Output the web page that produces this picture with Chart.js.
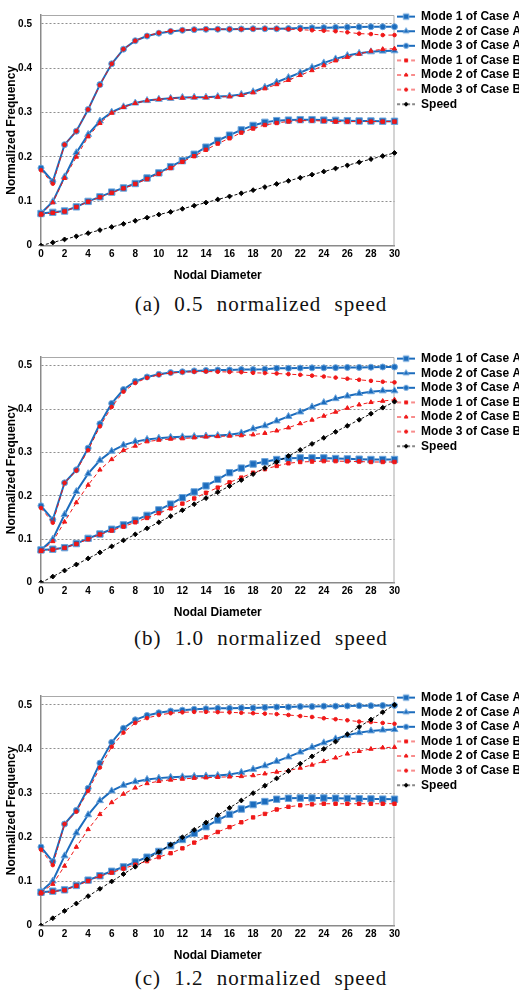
<!DOCTYPE html>
<html>
<head>
<meta charset="utf-8">
<script src="https://cdn.jsdelivr.net/npm/chart.js@4.4.1/dist/chart.umd.min.js"></script>
<style>
    html, body { margin: 0; padding: 0; background: #fff; }
    body { width: 519px; height: 995px; position: relative; overflow: hidden; }
    .panel { position: absolute; left: 0; }
    .caption {
        position: absolute; left: 0; width: 522px; text-align: center;
        font-family: "Liberation Serif", "Times New Roman", serif;
        font-size: 21px; line-height: 24px; letter-spacing: 1px; word-spacing: 7px; color: #111;
    }
</style>
</head>
<body>
<canvas id="chartA" class="panel" width="526" height="283" style="top:0px"></canvas>
<div class="caption" style="top:292px">(a) 0.5 normalized speed</div>
<canvas id="chartB" class="panel" width="526" height="278" style="top:342px"></canvas>
<div class="caption" style="top:626px">(b) 1.0 normalized speed</div>
<canvas id="chartC" class="panel" width="526" height="282" style="top:681px"></canvas>
<div class="caption" style="top:966px">(c) 1.2 normalized speed</div>

<script>
// Nodal diameters (x axis)
const NODAL_DIAMETERS = [0, 1, 2, 3, 4, 5, 6, 7, 8, 9, 10, 11, 12, 13, 14, 15,
    16, 17, 18, 19, 20, 21, 22, 23, 24, 25, 26, 27, 28, 29, 30];
const Y_TICKS = [0, 0.1, 0.2, 0.3, 0.4, 0.5];

// (a) 0.5 normalized speed
const a_mode1A = [0.0723, 0.075, 0.078, 0.0874, 0.0997, 0.110, 0.1207, 0.130, 0.140, 0.1525, 0.164, 0.178, 0.1915, 0.206, 0.222, 0.237, 0.249, 0.261, 0.271, 0.278, 0.2818, 0.283, 0.284, 0.284, 0.283, 0.2825, 0.2818, 0.281, 0.281, 0.2805, 0.2803];
const a_mode2A = [0.073, 0.099, 0.155, 0.2095, 0.2507, 0.281, 0.301, 0.313, 0.3215, 0.327, 0.330, 0.332, 0.334, 0.3345, 0.3345, 0.336, 0.3374, 0.341, 0.347, 0.357, 0.3685, 0.379, 0.390, 0.4017, 0.412, 0.421, 0.4285, 0.4335, 0.437, 0.4386, 0.4393];
const a_mode3A = [0.175, 0.1445, 0.2276, 0.258, 0.307, 0.363, 0.41, 0.443, 0.462, 0.4725, 0.479, 0.483, 0.4855, 0.487, 0.4877, 0.488, 0.488, 0.4885, 0.489, 0.489, 0.489, 0.4895, 0.4905, 0.491, 0.4915, 0.492, 0.4925, 0.493, 0.4935, 0.4935, 0.4935];
const a_mode1B = [0.070, 0.074, 0.077, 0.087, 0.099, 0.109, 0.119, 0.129, 0.139, 0.150, 0.162, 0.175, 0.189, 0.2016, 0.216, 0.23, 0.242, 0.2547, 0.264, 0.272, 0.2765, 0.280, 0.2818, 0.2818, 0.281, 0.2796, 0.2796, 0.2796, 0.2796, 0.2796, 0.2796];
const a_mode2B = [0.071, 0.097, 0.152, 0.200, 0.2457, 0.276, 0.299, 0.312, 0.321, 0.327, 0.330, 0.332, 0.333, 0.334, 0.334, 0.335, 0.336, 0.339, 0.345, 0.354, 0.3634, 0.373, 0.384, 0.395, 0.406, 0.417, 0.425, 0.432, 0.439, 0.443, 0.444];
const a_mode3B = [0.170, 0.1395, 0.2276, 0.258, 0.307, 0.362, 0.41, 0.443, 0.462, 0.473, 0.480, 0.484, 0.486, 0.487, 0.488, 0.488, 0.488, 0.488, 0.4885, 0.489, 0.489, 0.488, 0.487, 0.4855, 0.4845, 0.4834, 0.481, 0.478, 0.477, 0.4747, 0.4747];
const a_speed = [0, 0.007, 0.014, 0.021, 0.028, 0.035, 0.042, 0.049, 0.056, 0.063, 0.070, 0.076, 0.083, 0.090, 0.097, 0.104, 0.111, 0.118, 0.125, 0.132, 0.139, 0.146, 0.153, 0.160, 0.167, 0.174, 0.181, 0.188, 0.195, 0.202, 0.209];

// (b) 1.0 normalized speed
const b_mode1A = [0.0753, 0.077, 0.0805, 0.090, 0.102, 0.112, 0.123, 0.133, 0.144, 0.155, 0.1677, 0.181, 0.1957, 0.209, 0.223, 0.238, 0.2533, 0.264, 0.2733, 0.2785, 0.2837, 0.2867, 0.2874, 0.2874, 0.2874, 0.286, 0.2852, 0.2845, 0.2837, 0.2837, 0.2837];
const b_mode2A = [0.075, 0.1, 0.157, 0.21, 0.251, 0.282, 0.303, 0.317, 0.325, 0.330, 0.333, 0.335, 0.336, 0.337, 0.338, 0.339, 0.341, 0.345, 0.3545, 0.3615, 0.3726, 0.383, 0.3933, 0.405, 0.415, 0.424, 0.430, 0.436, 0.440, 0.442, 0.442];
const b_mode3A = [0.177, 0.145, 0.23, 0.26, 0.31, 0.366, 0.413, 0.445, 0.464, 0.474, 0.480, 0.484, 0.486, 0.488, 0.489, 0.490, 0.490, 0.491, 0.491, 0.492, 0.494, 0.494, 0.4945, 0.495, 0.495, 0.4955, 0.496, 0.496, 0.4965, 0.497, 0.497];
const b_mode1B = [0.073, 0.076, 0.080, 0.089, 0.1, 0.111, 0.12, 0.129, 0.139, 0.149, 0.16, 0.171, 0.182, 0.194, 0.207, 0.219, 0.231, 0.242, 0.2533, 0.2615, 0.2689, 0.275, 0.278, 0.279, 0.28, 0.28, 0.2795, 0.279, 0.278, 0.278, 0.278];
const b_mode2B = [0.073, 0.095, 0.14, 0.1846, 0.225, 0.26, 0.284, 0.305, 0.315, 0.325, 0.3286, 0.331, 0.332, 0.334, 0.336, 0.337, 0.338, 0.339, 0.341, 0.3444, 0.350, 0.357, 0.3667, 0.375, 0.384, 0.3933, 0.4022, 0.41, 0.4156, 0.4185, 0.4215];
const b_mode3B = [0.172, 0.138, 0.23, 0.258, 0.305, 0.36, 0.405, 0.44, 0.46, 0.472, 0.479, 0.483, 0.485, 0.486, 0.4865, 0.486, 0.4855, 0.485, 0.4835, 0.483, 0.482, 0.4805, 0.479, 0.477, 0.475, 0.4725, 0.470, 0.4675, 0.465, 0.463, 0.4615];
const b_speed = [0, 0.0139, 0.0278, 0.0417, 0.0556, 0.0695, 0.0834, 0.0973, 0.1112, 0.1251, 0.139, 0.1529, 0.1668, 0.1807, 0.1946, 0.2085, 0.2224, 0.2363, 0.2502, 0.2641, 0.278, 0.2919, 0.3058, 0.3197, 0.3336, 0.3475, 0.3614, 0.3753, 0.3892, 0.4031, 0.417];

// (c) 1.2 normalized speed
const c_mode1A = [0.0755, 0.078, 0.081, 0.091, 0.103, 0.113, 0.123, 0.133, 0.144, 0.155, 0.168, 0.181, 0.195, 0.209, 0.224, 0.239, 0.252, 0.264, 0.274, 0.281, 0.2862, 0.2884, 0.289, 0.289, 0.289, 0.2885, 0.288, 0.2875, 0.287, 0.2865, 0.2862];
const c_mode2A = [0.077, 0.101, 0.158, 0.21, 0.251, 0.283, 0.305, 0.318, 0.326, 0.331, 0.334, 0.336, 0.337, 0.338, 0.339, 0.340, 0.342, 0.347, 0.354, 0.362, 0.372, 0.382, 0.393, 0.404, 0.414, 0.423, 0.431, 0.437, 0.441, 0.443, 0.444];
const c_mode3A = [0.178, 0.145, 0.23, 0.261, 0.311, 0.368, 0.415, 0.447, 0.466, 0.476, 0.482, 0.486, 0.488, 0.490, 0.491, 0.492, 0.492, 0.493, 0.493, 0.494, 0.495, 0.495, 0.496, 0.496, 0.497, 0.497, 0.4975, 0.498, 0.498, 0.4985, 0.4986];
const c_mode1B = [0.073, 0.077, 0.08, 0.09, 0.101, 0.112, 0.12, 0.129, 0.138, 0.146, 0.155, 0.164, 0.175, 0.188, 0.2, 0.212, 0.223, 0.234, 0.245, 0.253, 0.263, 0.269, 0.2725, 0.2746, 0.276, 0.276, 0.276, 0.276, 0.276, 0.276, 0.276];
const c_mode2B = [0.075, 0.094, 0.135, 0.178, 0.218, 0.252, 0.279, 0.298, 0.312, 0.322, 0.327, 0.330, 0.332, 0.334, 0.335, 0.336, 0.337, 0.338, 0.340, 0.344, 0.348, 0.351, 0.357, 0.364, 0.372, 0.380, 0.389, 0.395, 0.400, 0.403, 0.404];
const c_mode3B = [0.172, 0.137, 0.23, 0.258, 0.305, 0.358, 0.405, 0.437, 0.459, 0.47, 0.477, 0.481, 0.483, 0.484, 0.484, 0.4835, 0.483, 0.482, 0.481, 0.480, 0.479, 0.477, 0.4746, 0.4725, 0.4696, 0.4674, 0.465, 0.462, 0.461, 0.459, 0.457];
const c_speed = [0, 0.0167, 0.0333, 0.05, 0.0667, 0.0833, 0.1, 0.1167, 0.1333, 0.15, 0.1667, 0.1833, 0.2, 0.2167, 0.2333, 0.25, 0.2667, 0.2833, 0.3, 0.3167, 0.3333, 0.35, 0.3667, 0.3833, 0.4, 0.4167, 0.4333, 0.45, 0.4667, 0.4833, 0.5];

// Styling
const FONT_FAMILY = '"Liberation Sans", Arial, sans-serif';
const BLUE = '#1c6cbd';
const BLUE_EDGE = '#6ea6dc';
const RED = '#f01818';

const SERIES_STYLES = [
    { label: 'Mode 1 of Case A', color: BLUE, width: 2, dash: [], point: 'rect', radius: 4.5, fill: BLUE, edge: BLUE_EDGE, order: 2 },
    { label: 'Mode 2 of Case A', color: BLUE, width: 2, dash: [], point: 'triangle', radius: 4, fill: BLUE, edge: BLUE_EDGE, order: 2 },
    { label: 'Mode 3 of Case A', color: BLUE, width: 2, dash: [], point: 'circle', radius: 3, fill: BLUE, edge: BLUE_EDGE, order: 2 },
    { label: 'Mode 1 of Case B', color: RED, width: 1, dash: [4, 3], point: 'rect', radius: 2.4, fill: RED, edge: RED, order: 1 },
    { label: 'Mode 2 of Case B', color: RED, width: 1, dash: [4, 3], point: 'triangle', radius: 2.5, fill: RED, edge: RED, order: 1 },
    { label: 'Mode 3 of Case B', color: RED, width: 1, dash: [4, 3], point: 'circle', radius: 1.8, fill: RED, edge: RED, order: 1 },
    { label: 'Speed', color: '#111', width: 1, dash: [3, 2], point: 'rectRot', radius: 2.4, fill: '#000', edge: '#000', order: 0 }
];

Chart.defaults.font.family = FONT_FAMILY;

/**
 * Small line + marker sample used as legend symbol
 */
function legendIcon(style) {
    const c = document.createElement('canvas');
    c.width = 18;
    c.height = 10;
    const ctx = c.getContext('2d');
    ctx.strokeStyle = style.color;
    ctx.lineWidth = style.width;
    ctx.setLineDash(style.dash);
    ctx.beginPath();
    ctx.moveTo(0, 5);
    ctx.lineTo(18, 5);
    ctx.stroke();
    ctx.setLineDash([]);
    ctx.fillStyle = style.fill;
    ctx.strokeStyle = style.edge;
    ctx.lineWidth = 1;
    Chart.helpers.drawPoint(ctx, { pointStyle: style.point, radius: style.radius * 0.85, borderWidth: 1, rotation: 0 }, 9, 5);
    return c;
}

const LEGEND_ICONS = SERIES_STYLES.map(legendIcon);

// Top and right edge of the plot box
const plotFrame = {
    id: 'plotFrame',
    beforeDatasetsDraw(chart) {
        const { ctx, chartArea: a } = chart;
        ctx.save();
        ctx.strokeStyle = '#a9a9a9';
        ctx.lineWidth = 1;
        ctx.beginPath();
        ctx.moveTo(a.left, a.top + 0.5);
        ctx.lineTo(a.right - 0.5, a.top + 0.5);
        ctx.lineTo(a.right - 0.5, a.bottom);
        ctx.stroke();
        ctx.restore();
    }
};

function buildDatasets(seriesList) {
    return seriesList.map((values, i) => {
        const s = SERIES_STYLES[i];
        return {
            label: s.label,
            data: values,
            borderColor: s.color,
            borderWidth: s.width,
            borderDash: s.dash,
            pointStyle: s.point,
            pointRadius: s.radius,
            pointBackgroundColor: s.fill,
            pointBorderColor: s.edge,
            pointBorderWidth: 1,
            tension: 0,
            fill: false,
            order: s.order
        };
    });
}

function nodalChart(canvasId, seriesList) {
    const el = document.getElementById(canvasId);
    const tickFont = { family: FONT_FAMILY, size: 10, weight: 'bold' };
    const titleFont = { family: FONT_FAMILY, size: 12, weight: 'bold' };

    return new Chart(el.getContext('2d'), {
        type: 'line',
        data: { labels: NODAL_DIAMETERS, datasets: buildDatasets(seriesList) },
        options: {
            responsive: false,
            animation: false,
            layout: { padding: { top: 8, left: 0, right: 0, bottom: 0 } },
            plugins: {
                tooltip: { enabled: false },
                legend: {
                    display: true,
                    position: 'right',
                    align: 'start',
                    labels: {
                        usePointStyle: true,
                        pointStyleWidth: 18,
                        padding: 2.6,
                        color: '#000',
                        font: { family: FONT_FAMILY, size: 12, weight: 'bold' },
                        generateLabels: (chart) => chart.data.datasets.map((ds, i) => ({
                            text: ds.label,
                            pointStyle: LEGEND_ICONS[i],
                            fillStyle: 'rgba(0,0,0,0)',
                            strokeStyle: 'rgba(0,0,0,0)',
                            lineWidth: 0,
                            fontColor: '#000',
                            hidden: false,
                            datasetIndex: i
                        }))
                    }
                }
            },
            scales: {
                x: {
                    ticks: {
                        autoSkip: false,
                        maxRotation: 0,
                        padding: 3,
                        color: '#000',
                        font: tickFont,
                        callback: (v, i) => (i % 2 === 0 ? String(NODAL_DIAMETERS[i]) : '')
                    },
                    grid: { display: false, drawTicks: false },
                    border: { display: true, color: '#8a8a8a', width: 1.5 },
                    title: {
                        display: true,
                        text: 'Nodal Diameter',
                        color: '#000',
                        font: titleFont,
                        padding: { top: 5, bottom: 0 }
                    }
                },
                y: {
                    min: 0,
                    max: 0.52,
                    afterBuildTicks: (axis) => {
                        axis.ticks = Y_TICKS.map(v => ({ value: v }));
                    },
                    afterFit: (axis) => {
                        axis.width = 41;
                    },
                    ticks: {
                        padding: 9,
                        color: '#000',
                        font: tickFont,
                        callback: v => String(Math.round(v * 10) / 10)
                    },
                    grid: {
                        drawTicks: false,
                        lineWidth: 1,
                        color: ctx => (ctx.tick && ctx.tick.value === 0 ? 'rgba(0,0,0,0)' : '#8f8f8f')
                    },
                    border: { display: true, color: '#8a8a8a', width: 1.5, dash: [2, 2] },
                    title: {
                        display: true,
                        text: 'Normalized Frequency',
                        color: '#000',
                        font: titleFont,
                        padding: { top: 4, bottom: 0 }
                    }
                }
            }
        },
        plugins: [plotFrame]
    });
}

nodalChart('chartA', [a_mode1A, a_mode2A, a_mode3A, a_mode1B, a_mode2B, a_mode3B, a_speed]);
nodalChart('chartB', [b_mode1A, b_mode2A, b_mode3A, b_mode1B, b_mode2B, b_mode3B, b_speed]);
nodalChart('chartC', [c_mode1A, c_mode2A, c_mode3A, c_mode1B, c_mode2B, c_mode3B, c_speed]);
</script>
</body>
</html>
